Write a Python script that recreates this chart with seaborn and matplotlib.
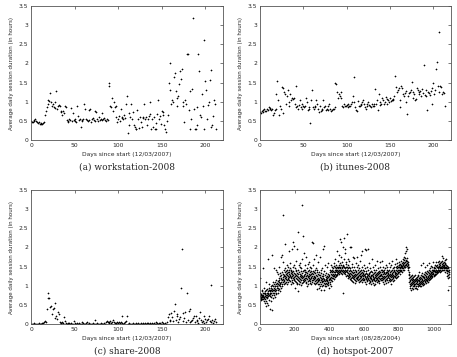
import numpy as np
import pandas as pd
import matplotlib
matplotlib.use('Agg')
import matplotlib.pyplot as plt
from matplotlib.ticker import FormatStrFormatter, MultipleLocator
import seaborn as sns

# average daily session duration (hours), one value per day
workstation = [
    0.50, 0.47, 0.48, 0.50, 0.53, 0.55, 0.50, 0.48, 0.45, 0.46, 0.43, 0.42, 0.44, 0.41, 0.45, 0.47,
    0.65, 0.75, 0.85, 0.95,
    1.05, 1.03, 1.22, 0.98, 0.90, 0.95, 0.85, 0.83, 1.00, 1.27, 0.82, 0.88, 0.92,
    0.90, 0.75, 0.72, 0.65, 0.75, 0.70, 0.88, 0.85,
    0.52, 0.50, 0.47, 0.55, 0.52, 0.83, 0.50, 0.70, 0.52, 0.50, 0.55, 0.48, 0.90, 0.62, 0.52, 0.55, 0.33, 0.50, 0.52, 0.55,
    0.93, 0.80, 0.55, 0.52, 0.50, 0.52, 0.78, 0.80, 0.48, 0.55, 0.58, 0.52, 0.50, 0.75, 0.72, 0.55, 0.50, 0.60, 0.53, 0.55,
    0.52, 0.70, 0.55, 0.58, 0.52, 0.50, 0.55, 0.53,
    1.42, 1.50, 0.90, 0.85,
    1.10, 0.75, 1.00, 0.85, 0.90, 0.60, 0.48, 0.55, 0.62, 0.50, 0.82, 0.60, 0.58, 0.55, 0.65, 0.58, 0.95, 1.15,
    0.18, 0.70, 0.38, 0.60, 0.95, 0.55, 0.72, 0.40, 0.35, 0.28, 0.30, 0.78, 0.55, 0.32, 0.60, 0.48, 0.35, 0.58, 0.60, 0.93,
    0.55, 0.60, 0.38, 0.55, 0.62, 0.98, 0.68, 0.28, 0.55, 0.35, 0.60, 0.30, 0.45, 0.28, 0.68, 1.05, 0.55, 0.62, 0.42, 0.75,
    0.72, 0.65, 0.40, 0.30, 0.22, 0.50, 0.65,
    1.50, 2.00, 1.30, 0.95, 1.05, 1.00, 1.65, 1.75, 1.28, 1.10, 0.90, 1.15, 1.45, 1.80, 1.60, 1.85, 0.90, 1.00, 0.48, 1.05,
    0.95, 2.25, 2.25, 0.78, 0.28, 1.28, 0.55, 1.32, 3.18, 0.82, 0.30, 0.28, 0.85, 0.38, 2.25, 1.80, 0.65, 0.60, 1.20, 0.90,
    0.28, 2.60, 1.55, 1.30, 0.55, 0.92, 1.00, 1.58, 1.82, 0.35, 0.40, 0.62, 1.05, 0.95, 0.30,
]

itunes = [
    0.72, 0.70, 0.75, 0.73, 0.78, 0.80, 0.75, 0.77, 0.82, 0.78, 0.85, 0.80, 0.83, 0.78, 0.80, 0.66, 0.70, 0.78,
    0.82, 1.20, 1.55, 1.05, 0.65, 0.90, 0.80, 1.38, 0.70, 1.35, 1.25, 1.20, 0.95, 1.15, 1.30, 1.00, 0.90, 1.20,
    1.05, 1.10, 1.08, 1.10, 0.95,
    1.40, 0.85, 0.88, 0.80, 0.92, 1.05, 0.85, 0.95, 0.80, 0.88, 0.85, 0.90, 1.10, 1.00, 0.78, 0.80, 0.85, 0.45, 1.05, 1.30,
    0.85, 0.82, 0.90, 0.85, 1.05, 0.95, 0.80, 0.72, 0.90, 0.75, 0.82, 0.78, 1.05, 0.85, 0.90, 0.78, 0.80, 0.88, 0.78, 0.95,
    0.80, 0.75, 0.78, 0.82, 0.80, 0.85, 1.48, 1.45,
    1.25, 1.10, 1.20, 1.15, 1.25, 1.10, 0.90, 0.85, 0.95, 0.90, 0.88, 0.92, 0.85, 0.95, 0.90, 0.88, 0.95, 1.00, 1.15, 1.65,
    1.00, 0.85,
    0.78, 0.75, 1.02, 0.88, 0.90, 0.95, 0.92, 1.00, 1.05, 0.95, 0.85, 0.80, 0.90, 0.95, 1.00, 0.92, 0.88, 0.85, 0.95, 0.90,
    0.88, 0.95, 1.32, 0.95, 1.05, 0.78, 1.20, 1.00, 0.92, 0.95,
    1.10, 1.05, 0.95, 1.00, 1.12, 1.08, 0.95, 1.05, 1.00, 1.10, 1.02, 1.05, 1.08, 1.05, 1.15, 1.68, 1.38, 1.25, 1.30, 1.35,
    1.05, 0.85, 1.42, 1.35, 1.20, 1.15, 1.22, 1.28, 1.00, 0.68,
    1.15, 1.22, 1.25, 1.30, 1.52, 1.10, 1.25, 1.20, 1.05, 1.08, 1.35, 1.30, 1.20, 1.25, 1.28, 1.15, 1.32, 1.22, 1.96, 1.18,
    1.15, 1.30, 0.78, 1.25, 1.22, 1.18, 1.28, 1.35, 0.95, 1.50, 1.20, 1.30, 1.85, 2.03, 1.40, 2.82, 1.25, 1.42, 1.38, 1.20,
    1.25, 1.22, 0.90,
]

share = [
    0.01, 0.00, 0.01, 0.02, 0.00, 0.01, 0.00, 0.01, 0.00, 0.02, 0.01, 0.00, 0.01, 0.02, 0.03, 0.05,
    0.08, 0.04, 0.40, 0.80, 0.68, 0.67, 0.45, 0.48, 0.25, 0.40, 0.42, 0.15, 0.55, 0.20, 0.12, 0.32, 0.26, 0.05, 0.03, 0.02,
    0.05, 0.03, 0.18, 0.08, 0.02,
    0.01, 0.02, 0.00, 0.03, 0.01, 0.02, 0.00, 0.01, 0.08, 0.02, 0.01, 0.00, 0.03, 0.01, 0.02, 0.01, 0.00, 0.04, 0.01, 0.02,
    0.00, 0.01, 0.03, 0.05, 0.01, 0.00, 0.02, 0.01, 0.01, 0.00, 0.02, 0.01, 0.10, 0.00, 0.01, 0.02, 0.01, 0.00, 0.01, 0.02,
    0.01, 0.00, 0.01, 0.02, 0.00, 0.06, 0.08, 0.04, 0.05, 0.03, 0.07, 0.02, 0.05, 0.10, 0.04, 0.02, 0.03, 0.01, 0.05, 0.03,
    0.06, 0.02, 0.04, 0.22, 0.03, 0.01, 0.02, 0.05, 0.08, 0.22, 0.01, 0.00, 0.02, 0.01, 0.00, 0.01, 0.02, 0.00, 0.01, 0.02,
    0.00, 0.01, 0.02, 0.01, 0.00, 0.02, 0.01, 0.03, 0.01, 0.00, 0.02, 0.01, 0.02, 0.03, 0.01, 0.00, 0.02, 0.01, 0.03, 0.01,
    0.02, 0.00, 0.01, 0.04, 0.02, 0.01, 0.03, 0.02, 0.01, 0.05, 0.02, 0.01, 0.00, 0.02, 0.01,
    0.05, 0.18, 0.25, 0.08, 0.10, 0.30, 0.18, 0.08, 0.35, 0.52, 0.10, 0.25, 0.20, 0.05, 0.12, 0.18, 0.93, 1.97, 0.30, 0.08,
    0.15, 0.32, 0.05, 0.80, 0.10, 0.35, 0.05, 0.38, 0.08, 0.10, 0.15, 0.20, 0.05, 0.22, 0.10, 0.08, 0.03, 0.15, 0.32, 0.10,
    0.05, 0.08, 0.20, 0.03, 0.12, 0.05, 0.10, 0.12, 0.22, 0.08, 1.03, 0.05, 0.10, 0.03, 0.08, 0.12, 0.06,
]

hotspot = [
    1.20, 0.80, 0.72, 0.65, 0.75, 0.70, 0.68, 0.78, 0.62, 0.85, 0.72, 0.70, 0.66, 0.90, 0.75, 0.80, 1.45, 0.70, 0.65, 0.72,
    0.75, 0.82, 0.60, 0.70, 0.68, 0.95, 0.78, 0.55, 0.72, 0.80, 0.85, 0.65, 0.70, 1.10, 0.76, 0.60, 0.48, 0.88, 0.75, 0.82,
    0.70, 0.92, 0.68, 0.55, 1.70, 0.78, 0.85, 0.72, 0.50, 0.80, 0.95, 0.88, 0.62, 0.75, 1.05, 0.82, 0.40, 0.78, 0.90, 0.72,
    0.85, 1.00, 0.70, 0.80, 0.95, 0.60, 0.88, 1.80, 0.36, 0.92, 0.85, 0.75, 1.02, 0.90, 0.68, 0.98, 0.82, 1.10, 0.75, 0.88,
    0.95, 1.05, 0.80, 1.45, 0.92, 0.70, 1.00, 1.10, 0.85, 0.98, 1.40, 0.78, 1.05, 0.90, 1.15, 0.82, 1.00, 1.35, 0.95, 1.08,
    1.00, 0.88, 1.12, 1.30, 0.95, 1.05, 0.80, 1.20, 1.10, 0.92, 1.50, 1.02, 1.15, 0.85, 1.25, 1.08, 0.98, 1.32, 1.05, 1.18,
    1.10, 1.28, 0.95, 1.20, 1.75, 1.05, 1.35, 1.15, 1.00, 1.80, 2.85, 1.22, 1.10, 1.30, 1.62, 1.18, 1.25, 1.05, 1.40, 1.15,
    1.28, 1.12, 1.35, 1.20, 2.10, 1.08, 1.25, 1.45, 1.18, 1.30, 1.10, 1.38, 1.22, 1.55, 1.15, 1.32, 1.05, 1.28, 1.40, 1.20,
    1.35, 1.18, 1.25, 1.50, 1.10, 1.30, 1.42, 1.22, 1.90, 1.15, 1.35, 1.28, 1.60, 1.12, 1.45, 1.25, 1.38, 1.05, 1.20, 1.32,
    1.40, 1.22, 1.15, 1.95, 1.30, 1.10, 1.35, 1.25, 1.48, 2.15, 1.20, 1.38, 1.08, 1.28, 1.55, 1.15, 1.32, 1.22, 2.05, 1.18,
    1.30, 1.12, 1.45, 1.25, 0.95, 1.38, 1.20, 1.65, 1.10, 1.28, 1.42, 1.05, 1.32, 1.18, 1.95, 1.25, 1.08, 1.40, 1.22, 0.85,
    2.40, 1.15, 1.30, 1.20, 1.55, 1.05, 1.35, 1.12, 1.25, 1.48, 1.18, 1.30, 1.60, 1.10, 1.22, 1.38, 1.15, 1.28, 1.02, 1.45,
    1.20, 1.32, 1.08, 1.25, 1.70, 3.12, 1.15, 1.38, 1.22, 2.30, 1.10, 1.28, 1.40, 1.18, 1.85, 1.25, 1.12, 1.35, 1.55, 1.20,
    1.30, 1.15, 1.42, 1.08, 1.25, 1.75, 1.20, 1.35, 1.10, 1.28, 1.45, 1.18, 1.00, 1.32, 1.22, 1.58, 1.12, 1.38, 1.25, 1.05,
    1.40, 1.20, 1.30, 1.15, 1.62, 1.25, 1.08, 1.35, 1.18, 1.28, 1.50, 1.12, 1.22, 1.38, 1.05, 1.30, 1.20, 1.45, 1.15, 1.32,
    2.15, 1.25, 1.10, 1.38, 1.20, 1.55, 1.15, 1.30, 2.12, 1.22, 1.08, 1.35, 1.18, 1.70, 1.25, 1.12, 1.40, 1.20, 1.05, 1.32,
    1.22, 1.15, 1.45, 1.08, 1.28, 1.80, 1.18, 1.35, 1.10, 0.92, 1.25, 1.40, 1.15, 1.05, 1.30, 1.62, 1.20, 1.12, 0.95, 1.28,
    1.18, 1.05, 1.35, 1.15, 1.22, 1.75, 1.10, 0.98, 1.28, 1.15, 1.40, 1.05, 1.20, 0.90, 1.32, 1.12, 1.25, 1.00, 1.45, 1.18,
    1.10, 1.30, 1.02, 1.20, 1.95, 1.12, 1.25, 0.88, 1.15, 2.05, 1.08, 1.38, 1.18, 1.00, 1.28, 1.12, 1.55, 1.05, 1.22, 1.15,
    1.32, 1.08, 1.18, 0.98, 1.25, 1.12, 1.48, 1.05, 1.20, 1.15, 1.02, 1.30, 1.10, 1.22, 1.60, 1.08, 1.15, 1.28, 0.95, 1.18,
    1.25, 1.10, 1.35, 1.20, 1.05, 1.42, 1.18, 1.30, 1.00, 1.55, 1.22, 1.38, 1.15, 1.28, 1.48, 1.20, 1.35, 1.12, 1.40, 1.25,
    1.30, 1.45, 1.20, 1.38, 1.52, 1.25, 1.35, 1.18, 1.60, 1.28, 1.42, 1.30, 1.22, 1.50, 1.35, 1.70, 1.28, 1.45, 1.38, 1.25,
    1.40, 1.55, 1.30, 1.48, 1.35, 1.90, 1.42, 1.28, 1.50, 1.38, 1.65, 1.32, 1.45, 1.80, 1.40, 1.55, 1.35, 1.48, 1.30, 2.22,
    1.45, 1.38, 1.60, 1.35, 1.50, 1.42, 2.15, 1.32, 1.55, 1.40, 1.75, 1.38, 1.48, 1.30, 1.62, 1.45, 2.00, 1.35, 1.52, 0.80,
    1.42, 1.55, 2.25, 1.38, 1.48, 1.70, 1.32, 1.50, 1.95, 1.40, 1.35, 1.85, 1.45, 1.30, 1.58, 1.38, 1.48, 1.25, 1.62, 1.40,
    1.35, 1.50, 1.28, 2.35, 1.42, 1.20, 1.55, 1.32, 1.45, 1.25, 1.70, 1.38, 1.22, 1.48, 1.30, 1.65, 1.28, 1.40, 1.18, 2.02,
    1.32, 1.25, 1.45, 1.20, 2.00, 1.38, 1.15, 1.30, 1.58, 1.22, 1.35, 1.12, 1.48, 1.28, 1.75, 1.20, 1.40, 1.25, 1.10, 1.32,
    1.28, 1.50, 1.18, 1.35, 1.22, 1.72, 1.30, 1.15, 1.42, 1.25, 1.08, 1.38, 1.20, 1.60, 1.28, 1.12, 1.35, 1.22, 1.48, 1.18,
    1.30, 1.20, 1.75, 1.25, 1.40, 1.15, 1.32, 1.22, 1.55, 1.10, 1.28, 1.45, 1.18, 1.35, 1.25, 1.65, 1.20, 1.38, 1.12, 1.30,
    1.25, 1.42, 1.15, 1.32, 1.80, 1.22, 1.35, 1.10, 1.48, 1.28, 1.18, 1.90, 1.30, 1.20, 1.40, 1.15, 1.32, 1.25, 1.55, 1.18,
    1.28, 1.15, 1.38, 1.95, 1.22, 1.30, 1.10, 1.45, 1.25, 1.18, 1.92, 1.32, 1.20, 1.05, 1.38, 1.25, 1.15, 1.50, 1.22, 1.30,
    1.12, 1.28, 1.20, 1.40, 1.95, 1.18, 1.32, 1.08, 1.25, 1.60, 1.15, 1.30, 1.22, 1.10, 1.35, 1.20, 1.45, 1.12, 1.28, 1.18,
    1.25, 1.05, 1.38, 1.20, 1.15, 1.70, 1.28, 1.12, 1.35, 1.22, 1.08, 1.30, 1.18, 1.48, 1.25, 1.02, 1.32, 1.20, 1.15, 1.40,
    1.18, 1.28, 1.12, 1.35, 1.22, 1.05, 1.55, 1.20, 1.30, 1.15, 1.25, 1.42, 1.10, 1.32, 1.20, 1.18, 1.65, 1.28, 1.12, 1.35,
    1.22, 1.30, 1.15, 1.45, 1.25, 1.08, 1.38, 1.20, 1.32, 1.12, 1.28, 1.50, 1.18, 1.35, 1.25, 1.62, 1.20, 1.40, 1.15, 1.30,
    1.28, 1.20, 1.65, 1.35, 1.15, 1.42, 1.25, 1.10, 1.38, 1.22, 1.30, 1.48, 1.18, 1.32, 1.25, 1.05, 1.40, 1.20, 1.35, 1.15,
    1.30, 1.22, 1.45, 1.12, 1.35, 1.25, 1.55, 1.18, 1.32, 1.08, 1.28, 1.40, 1.20, 1.35, 1.15, 1.50, 1.25, 1.30, 1.10, 1.38,
    1.22, 1.32, 1.15, 1.60, 1.28, 1.20, 1.42, 1.12, 1.35, 1.25, 1.18, 1.48, 1.30, 1.05, 1.38, 1.22, 1.28, 1.55, 1.15, 1.32,
    1.25, 1.40, 1.18, 1.30, 1.65, 1.22, 1.35, 1.12, 1.45, 1.28, 1.20, 1.38, 1.50, 1.25, 1.15, 1.42, 1.32, 1.22, 1.58, 1.30,
    1.35, 1.25, 1.48, 1.20, 1.70, 1.32, 1.40, 1.28, 1.52, 1.22, 1.38, 1.30, 1.45, 1.60, 1.35, 1.25, 1.50, 1.42, 1.32, 1.55,
    1.40, 1.55, 1.35, 1.48, 1.62, 1.38, 1.50, 1.45, 1.30, 1.58, 1.42, 1.52, 1.65, 1.38, 1.48, 1.55, 1.40, 1.60, 1.45, 1.35,
    1.52, 1.48, 1.62, 1.40, 1.55, 1.70, 1.45, 1.58, 1.50, 1.75, 1.42, 1.60, 1.52, 1.68, 1.48, 1.85, 1.55, 1.62, 1.50, 1.72,
    1.58, 1.65, 1.90, 2.00, 1.55, 1.68, 1.95, 1.60, 1.72, 1.52, 1.65, 1.58, 1.48, 1.62, 1.40, 1.55, 1.45, 1.30, 1.50, 1.35,
    1.20, 1.10, 1.28, 0.95, 1.15, 1.05, 1.22, 1.00, 1.12, 0.90, 1.18, 1.08, 1.25, 1.02, 1.15, 0.95, 1.20, 1.10, 1.05, 1.28,
    1.12, 1.00, 1.18, 1.08, 0.92, 1.22, 1.05, 1.15, 0.98, 1.25, 1.10, 1.02, 1.18, 0.95, 1.12, 1.28, 1.05, 1.15, 1.00, 1.20,
    1.08, 1.15, 0.95, 1.22, 1.05, 1.12, 0.92, 1.18, 1.10, 1.28, 1.00, 1.15, 1.05, 1.25, 0.98, 1.12, 1.20, 1.08, 1.35, 1.02,
    1.15, 1.10, 1.22, 0.98, 1.18, 1.05, 1.28, 1.12, 1.00, 1.20, 1.55, 1.08, 1.15, 1.25, 1.05, 1.18, 1.10, 1.32, 1.02, 1.22,
    1.12, 1.25, 1.60, 1.08, 1.20, 1.15, 1.30, 1.05, 1.22, 1.12, 1.35, 1.18, 1.10, 1.28, 1.50, 1.15, 1.22, 1.08, 1.32, 1.18,
    1.25, 1.12, 1.38, 1.20, 1.15, 1.30, 1.55, 1.22, 1.10, 1.35, 1.25, 1.18, 1.42, 1.28, 1.15, 1.32, 1.20, 1.60, 1.25, 1.38,
    1.22, 1.30, 1.18, 1.45, 1.28, 1.35, 1.20, 1.52, 1.32, 1.25, 1.40, 1.22, 1.35, 1.30, 1.48, 1.25, 1.38, 1.62, 1.30, 1.42,
    1.32, 1.45, 1.28, 1.38, 1.50, 1.25, 1.42, 1.35, 1.30, 1.55, 1.38, 1.28, 1.45, 1.62, 1.35, 1.40, 1.30, 1.52, 1.42, 1.35,
    1.48, 1.38, 1.55, 1.32, 1.45, 1.40, 1.62, 1.35, 1.50, 1.42, 1.58, 1.38, 1.48, 1.65, 1.40, 1.52, 1.45, 1.35, 1.60, 1.48,
    1.42, 1.55, 1.48, 1.38, 1.62, 1.50, 1.45, 1.78, 1.40, 1.58, 1.52, 1.45, 1.65, 1.48, 1.55, 1.42, 1.60, 1.50, 1.72, 1.45,
    1.55, 1.48, 1.62, 1.40, 1.52, 1.58, 1.45, 1.68, 1.50, 1.35, 1.60, 1.42, 1.55, 1.48, 1.70, 1.45, 1.38, 1.52, 1.25, 1.45,
    1.40, 1.32, 1.50, 1.20, 1.38, 1.45, 1.28, 0.90, 1.35, 1.42, 1.30, 1.22,
]

panels = [
    (workstation, 'Days since start (12/03/2007)', '(a) workstation-2008', 220, 50),
    (itunes, 'Days since start (12/03/2007)', '(b) itunes-2008', 220, 50),
    (share, 'Days since start (12/03/2007)', '(c) share-2008', 220, 50),
    (hotspot, 'Days since start (08/28/2004)', '(d) hotspot-2007', 1100, 200),
]

sns.set_style('white')
plt.rcParams['font.family'] = ['DejaVu Sans']

W, H = 457, 357
fig = plt.figure(figsize=(W / 100, H / 100), dpi=100)

# axes boxes in pixels: left, top, right, bottom
boxes = [(31, 6, 222.7, 140), (260, 6, 450.7, 140),
         (31, 190, 222.7, 324), (260, 190, 450.7, 324)]

for (vals, xlab, cap, xmax, xstep), (l, t, r, b) in zip(panels, boxes):
    ax = fig.add_axes([l / W, 1 - b / H, (r - l) / W, (b - t) / H])
    df = pd.DataFrame({'day': np.arange(len(vals)), 'hours': vals})
    sns.scatterplot(data=df, x='day', y='hours', marker='+', color='black',
                    s=4, linewidth=0.45, ax=ax, legend=False)
    ax.set_xlim(0, xmax)
    ax.set_ylim(0, 3.5)
    ax.xaxis.set_major_locator(MultipleLocator(xstep))
    ax.yaxis.set_major_locator(MultipleLocator(0.5))
    ax.yaxis.set_major_formatter(FormatStrFormatter('%g'))
    ax.tick_params(direction='in', length=2.5, width=0.5, labelsize=4.3,
                   top=True, right=True, color='#444', pad=2)
    for s in ax.spines.values():
        s.set_linewidth(0.6)
        s.set_color('#555')
    ax.set_xlabel(xlab, fontsize=4.3, labelpad=3)
    ax.set_ylabel('Average daily session duration (in hours)', fontsize=4.0, labelpad=3)
    fig.text((l + r) / 2 / W, 1 - (b + 27) / H, cap, ha='center', va='center',
             fontsize=6.5, family='DejaVu Serif')

fig.savefig('out.png', dpi=100)
